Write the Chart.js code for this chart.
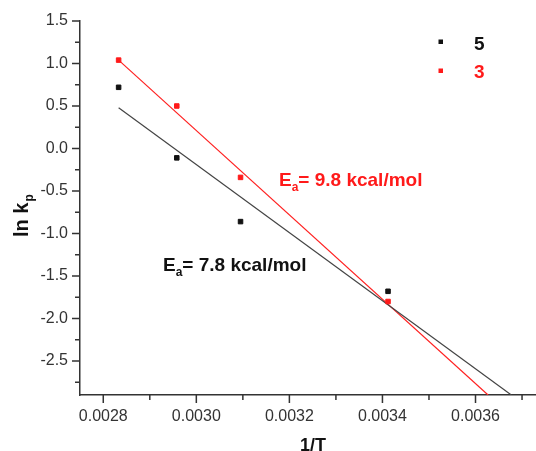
<!DOCTYPE html>
<html>
<head>
<meta charset="utf-8">
<script src="https://cdn.jsdelivr.net/npm/chart.js@4"></script>
<style>
  body { margin: 0; background: #fff; overflow: hidden; }
  #wrap { width: 536px; height: 451px; overflow: hidden; }
</style>
</head>
<body>
<div id="wrap"><canvas id="arrhenius" width="541" height="451"></canvas></div>
<script>
// data
const invT = [0.002833, 0.002958, 0.003095, 0.003412];
const lnK5 = [0.72, -0.11, -0.86, -1.68];
const lnK3 = [1.04, 0.50, -0.34, -1.80];

// linear fits (end points)
const fit5X = [0.002833, 0.003677];
const fit5Y = [0.48, -2.90];
const fit3X = [0.002833, 0.003627];
const fit3Y = [1.04, -2.90];

const xTicks = [0.0028, 0.0030, 0.0032, 0.0034, 0.0036];
const yTicks = [-2.5, -2.0, -1.5, -1.0, -0.5, 0.0, 0.5, 1.0, 1.5];
const xMinor = [0.0029, 0.0031, 0.0033, 0.0035, 0.0037];
const yMinor = [-2.75, -2.25, -1.75, -1.25, -0.75, -0.25, 0.25, 0.75, 1.25];

const toPts = (xs, ys) => xs.map((x, i) => ({ x: x, y: ys[i] }));

const axisColor = '#333';
const fontFam = '"Liberation Sans", Arial, sans-serif';

// Extra drawing: minor/major ticks, axis titles, annotations, legend
const decor = {
    id: 'decor',
    afterDraw(chart) {
        const ctx = chart.ctx;
        const xs = chart.scales.x, ys = chart.scales.y;
        const area = chart.chartArea;
        ctx.save();
        ctx.strokeStyle = axisColor;
        ctx.lineWidth = 1.5;
        ctx.beginPath();
        xTicks.forEach(v => { const p = xs.getPixelForValue(v); ctx.moveTo(p, area.bottom); ctx.lineTo(p, area.bottom + 8); });
        xMinor.forEach(v => { const p = xs.getPixelForValue(v); ctx.moveTo(p, area.bottom); ctx.lineTo(p, area.bottom + 5); });
        yTicks.forEach(v => { const p = ys.getPixelForValue(v); ctx.moveTo(area.left, p); ctx.lineTo(area.left - 8, p); });
        yMinor.forEach(v => { const p = ys.getPixelForValue(v); ctx.moveTo(area.left, p); ctx.lineTo(area.left - 5, p); });
        ctx.stroke();

        // x title
        ctx.fillStyle = '#111';
        ctx.font = 'bold 18px ' + fontFam;
        ctx.textAlign = 'center';
        ctx.textBaseline = 'alphabetic';
        ctx.fillText('1/T', 313, 451);

        // y title with subscript
        ctx.save();
        ctx.translate(28, 237);
        ctx.rotate(-Math.PI / 2);
        ctx.textAlign = 'left';
        ctx.font = 'bold 20px ' + fontFam;
        ctx.fillText('ln k', 0, 0);
        const w = ctx.measureText('ln k').width;
        ctx.font = 'bold 12px ' + fontFam;
        ctx.fillText('p', w + 1, 5);
        ctx.restore();

        // activation energy labels
        function ea(x, y, rest, color) {
            ctx.fillStyle = color;
            ctx.textAlign = 'left';
            ctx.font = 'bold 19px ' + fontFam;
            ctx.fillText('E', x, y);
            let cx = x + ctx.measureText('E').width;
            ctx.font = 'bold 12px ' + fontFam;
            ctx.fillText('a', cx, y + 5);
            cx += ctx.measureText('a').width;
            ctx.font = 'bold 19px ' + fontFam;
            ctx.fillText(rest, cx, y);
        }
        ea(279, 186, '= 9.8 kcal/mol', '#ff1a1a');
        ea(163, 271, '= 7.8 kcal/mol', '#111');

        // legend
        ctx.fillStyle = '#111';
        ctx.fillRect(438.5, 39.5, 4.5, 4.5);
        ctx.fillStyle = '#ff1a1a';
        ctx.fillRect(438.5, 68.5, 4.5, 4.5);
        ctx.font = 'bold 19px ' + fontFam;
        ctx.textAlign = 'left';
        ctx.fillStyle = '#111';
        ctx.fillText('5', 474, 49.5);
        ctx.fillStyle = '#ff1a1a';
        ctx.fillText('3', 474, 77.5);
        ctx.restore();
    }
};

new Chart(document.getElementById('arrhenius'), {
    type: 'scatter',
    data: {
        datasets: [
            { label: '5', data: toPts(invT, lnK5), backgroundColor: '#111', borderColor: '#111',
              pointStyle: 'rect', pointRadius: 3.2, order: 1 },
            { label: '3', data: toPts(invT, lnK3), backgroundColor: '#ff1a1a', borderColor: '#ff1a1a',
              pointStyle: 'rect', pointRadius: 3.2, order: 1 },
            { label: 'fit 5', data: toPts(fit5X, fit5Y), showLine: true, pointRadius: 0,
              borderColor: '#444', borderWidth: 1.2, order: 2 },
            { label: 'fit 3', data: toPts(fit3X, fit3Y), showLine: true, pointRadius: 0,
              borderColor: '#ff2020', borderWidth: 1.2, order: 2 }
        ]
    },
    options: {
        responsive: false,
        animation: false,
        layout: { padding: { top: 21, right: 0, left: 0, bottom: 0 } },
        plugins: { legend: { display: false }, tooltip: { enabled: false } },
        scales: {
            x: {
                type: 'linear', min: 0.00275, max: 0.00373,
                afterBuildTicks: s => { s.ticks = xTicks.map(v => ({ value: v })); },
                afterFit: s => { s.height = 56; s.paddingRight = 0; s.paddingLeft = 0; },
                grid: { display: false },
                border: { display: true, color: axisColor, width: 1.5 },
                ticks: { padding: 4, color: '#333', font: { family: fontFam, size: 16 },
                         maxRotation: 0, callback: v => v.toFixed(4) }
            },
            y: {
                type: 'linear', min: -2.9, max: 1.5,
                afterBuildTicks: s => { s.ticks = yTicks.map(v => ({ value: v })); },
                afterFit: s => { s.width = 80; },
                grid: { display: false },
                border: { display: true, color: axisColor, width: 1.5 },
                ticks: { padding: 4, color: '#333', font: { family: fontFam, size: 16 },
                         callback: v => v.toFixed(1) }
            }
        }
    },
    plugins: [decor]
});
</script>
</body>
</html>
